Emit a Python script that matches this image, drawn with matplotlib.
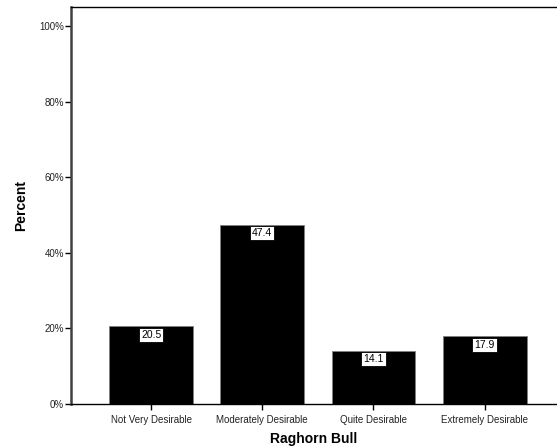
import matplotlib
matplotlib.use("Agg")
import matplotlib.pyplot as plt
from matplotlib.ticker import FuncFormatter

categories = ["Not Very Desirable", "Moderately Desirable", "Quite Desirable", "Extremely Desirable"]
percent = [20.5, 47.4, 14.1, 17.9]
y_ticks = [0, 20, 40, 60, 80, 100]

plt.rcParams['font.family'] = ['Liberation Sans', 'DejaVu Sans']

fig = plt.figure(figsize=(5.57, 4.48), dpi=100)
ax = fig.add_axes([71 / 557, 1 - 404 / 448, 1 - 71 / 557, 397 / 448])

x = list(range(len(categories)))
bars = ax.bar(x, percent, width=0.755, color='black', edgecolor='#808080', linewidth=0.6)

for xi, v in zip(x, percent):
    ax.annotate(f"{v:.1f}", (xi, v), xytext=(0, -6), textcoords='offset points',
                ha='center', va='center', fontsize=7.5,
                bbox=dict(boxstyle='square,pad=0.2', fc='white', ec='black', lw=0.6))

ax.set_xlim(-0.72, 3.65)
ax.set_ylim(0, 105)
ax.set_yticks(y_ticks)
ax.yaxis.set_major_formatter(FuncFormatter(lambda v, p: f"{v:.0f}%"))
ax.set_xticks(x)
ax.set_xticklabels(categories)
ax.tick_params(axis='both', labelsize=7, direction='out', length=4, width=1, colors='black')
ax.tick_params(axis='y', pad=1)
ax.tick_params(axis='x', pad=4)
for lbl in ax.get_xticklabels() + ax.get_yticklabels():
    lbl.set_color('#222222')

ax.spines['right'].set_visible(False)
ax.spines['left'].set_color('#404040')
ax.spines['left'].set_linewidth(1.8)
ax.spines['bottom'].set_linewidth(1)
ax.spines['top'].set_linewidth(1)

ax.set_xlabel("Raghorn Bull", fontsize=10, fontweight='bold', labelpad=5)
ax.set_ylabel("Percent", fontsize=10, fontweight='bold', labelpad=8)

fig.savefig("out.png", dpi=100)
